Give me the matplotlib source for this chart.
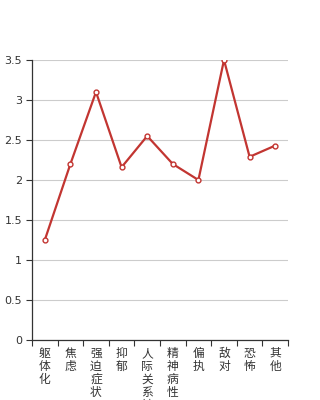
"""
Line chart of symptom-factor mean scores with vertical Chinese category labels.
"""

import numpy as np
import matplotlib

matplotlib.use("Agg")
import matplotlib.pyplot as plt

plt.rcParams["font.family"] = ["Noto Sans CJK SC", "DejaVu Sans"]

# Data
categories = ["躯体化", "焦虑", "强迫症状", "抑郁", "人际关系敏感",
              "精神病性", "偏执", "敌对", "恐怖", "其他"]
scores = [1.25, 2.20, 3.10, 2.16, 2.55, 2.20, 2.00, 3.50, 2.29, 2.43]
y_ticks = [0, 0.5, 1, 1.5, 2, 2.5, 3, 3.5]

fig = plt.figure(figsize=(3.2, 4.0), dpi=100)
ax = fig.add_axes([0.1, 0.15, 0.8, 0.70])

x = np.arange(len(categories))
ax.plot(
    x,
    scores,
    color="#c23531",
    linewidth=1.6,
    marker="o",
    markersize=3.5,
    markerfacecolor="white",
    markeredgecolor="#c23531",
    markeredgewidth=1.0,
    zorder=3,
)

ax.set_xlim(-0.5, len(categories) - 0.5)
ax.set_ylim(0, 3.5)

# Horizontal grid lines
ax.set_yticks(y_ticks)
ax.set_yticklabels([f"{t:g}" for t in y_ticks], fontsize=8, color="#333333",
                   family="DejaVu Sans")
ax.yaxis.grid(True, color="#cccccc", linewidth=0.8)
ax.set_axisbelow(True)

# Category ticks sit between the categories, labels are centred
ax.set_xticks(np.arange(len(categories) + 1) - 0.5)
ax.set_xticklabels([])
ax.set_xticks(x, minor=True)
ax.set_xticklabels(["\n".join(c) for c in categories], minor=True,
                   fontsize=8.5, va="top", linespacing=1.0, color="#333333")
ax.tick_params(axis="x", which="minor", length=0, pad=5)
ax.tick_params(axis="x", which="major", length=4, color="#333333")
ax.tick_params(axis="y", length=4, color="#333333", pad=3)

for side in ["top", "right"]:
    ax.spines[side].set_visible(False)
for side in ["left", "bottom"]:
    ax.spines[side].set_color("#333333")
    ax.spines[side].set_linewidth(0.9)

fig.savefig("out.png", dpi=100)
